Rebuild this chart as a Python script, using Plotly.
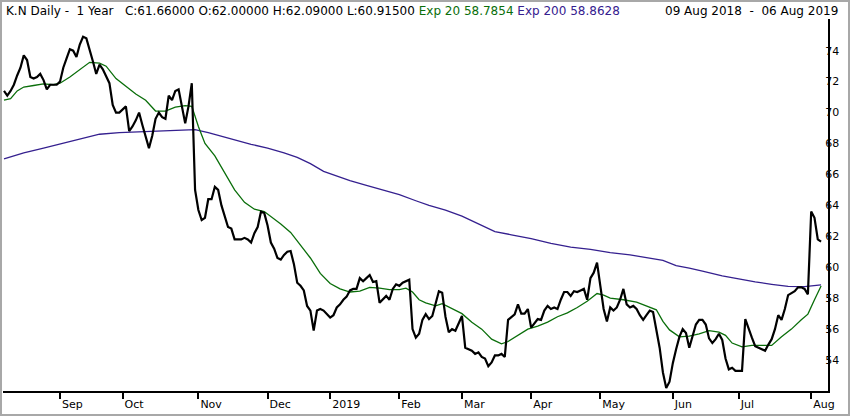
import pandas as pd
import plotly.graph_objs as go

# K.N daily closes, 09 Aug 2018 - 06 Aug 2019 (NYSE sessions)
start_date = "2018-08-09"
end_date = "2019-08-06"
holidays = ["2018-09-03", "2018-11-22", "2018-12-05", "2018-12-25", "2019-01-01",
            "2019-01-21", "2019-02-18", "2019-04-19", "2019-05-27", "2019-07-04"]

close = [
    71.4, 71.1, 71.4, 71.8, 72.4, 72.9, 73.7, 73.4, 72.3, 72.2,
    72.3, 72.5, 72.1, 71.5, 71.8, 71.8, 71.8, 72.0, 72.9, 73.5,
    74.1, 74.0, 73.6, 74.4, 74.9, 74.8, 74.1, 73.3, 72.5, 73.1,
    72.8, 72.3, 71.9, 70.5, 70.0, 70.0, 70.2, 70.4, 68.8, 69.1,
    69.5, 70.0, 69.2, 68.5, 67.7, 68.5, 69.6, 70.0, 69.7, 69.6,
    71.1, 70.8, 71.4, 71.5, 70.3, 69.3, 70.4, 71.9, 65.0, 63.7,
    63.05, 63.2, 64.4, 64.4, 65.2, 65.0, 64.0, 63.3, 62.6, 62.5,
    61.8, 61.8, 61.8, 61.9, 61.8, 61.6, 62.2, 62.6, 63.6, 63.5,
    62.7, 61.6, 61.2, 60.6, 60.5, 60.8, 61.0, 61.05, 60.2, 59.0,
    58.8, 58.5, 57.5, 57.2, 55.9, 57.2, 57.3, 57.2, 57.0, 56.75,
    56.9, 57.4, 57.6, 57.9, 58.1, 58.5, 58.6, 58.6, 59.3, 59.1,
    59.3, 59.5, 59.05, 59.1, 57.7, 57.9, 58.15, 57.9, 58.6, 58.9,
    58.8, 59.0, 59.1, 59.2, 56.0, 55.45, 55.7, 56.6, 56.97, 56.65,
    56.85, 57.6, 58.45, 58.35, 56.8, 55.8, 56.0, 55.9, 56.4, 56.85,
    54.8, 54.7, 54.6, 54.4, 54.5, 54.2, 54.1, 53.6, 53.85, 54.3,
    54.3, 54.4, 54.2, 56.6, 56.8, 56.95, 57.6, 57.0, 57.0, 57.3,
    56.1, 56.4, 56.65, 56.6, 57.2, 57.5, 57.3, 57.4, 57.3, 57.9,
    58.4, 58.4, 58.15, 58.45, 58.4, 58.5, 58.6, 57.9, 59.3, 59.65,
    60.3, 58.8, 57.3, 56.5, 57.4, 57.2, 57.4, 57.9, 58.6, 57.6,
    57.4, 57.5, 57.3, 56.9, 56.6, 56.9, 57.2, 57.1, 56.0, 54.8,
    53.2, 52.2, 52.6, 53.8, 54.7, 55.5, 56.0, 55.75, 54.8, 55.6,
    56.3, 56.6, 56.6, 56.3, 55.4, 55.1, 55.35, 55.7, 55.3, 54.1,
    53.4, 53.5, 53.3, 53.3, 53.3, 56.65, 56.0, 55.45, 54.9, 54.8,
    54.65, 54.6, 55.0, 55.35, 56.0, 56.9, 56.6, 57.3, 58.2, 58.3,
    58.45, 58.7, 58.7, 58.6, 58.25, 63.6, 63.2, 61.8, 61.66,
]

# exponential averages (session number, value)
ema20_day = [0, 2, 4, 6, 9, 12, 15, 17, 20, 23, 26, 29, 31, 34, 37, 40, 43, 46, 49,
             52, 55, 57, 59, 61, 64, 67, 70, 73, 76, 79, 81, 84, 87, 90, 93, 96, 99,
             102, 105, 108, 111, 114, 117, 120, 122, 124, 126, 128, 131, 133, 136,
             139, 142, 145, 148, 151, 153, 156, 159, 162, 165, 168, 171, 174, 177,
             180, 182, 184, 188, 192, 196, 198, 200, 202, 205, 208, 211, 214, 217,
             219, 221, 224, 227, 230, 233, 236, 239, 242, 244, 246, 248]
ema20 = [70.8, 70.9, 71.4, 71.65, 71.75, 71.85, 71.8, 71.9, 72.3, 72.8, 73.25, 73.2,
         73.0, 72.2, 71.7, 71.2, 70.8, 70.1, 70.1, 70.35, 70.45, 70.4, 69.1, 68.0,
         67.2, 66.1, 65.0, 64.2, 63.75, 63.6, 63.3, 62.8, 62.25, 61.4, 60.6, 59.6,
         58.95, 58.6, 58.4, 58.45, 58.7, 58.65, 58.55, 58.55, 58.65, 58.4, 57.9,
         57.7, 57.5, 57.65, 57.3, 57.0, 56.45, 56.0, 55.35, 55.05, 55.2, 55.6, 56.0,
         56.2, 56.45, 56.8, 57.05, 57.4, 57.8, 58.3, 58.2, 58.0, 57.9, 57.75, 57.45,
         57.25, 56.5, 55.95, 55.5, 55.55, 55.7, 55.9, 55.8, 55.6, 55.1, 54.85, 54.95,
         54.95, 54.95, 55.5, 56.0, 56.6, 56.97, 57.9, 58.7854]

ema200_day = [0, 6, 12, 17, 23, 29, 35, 41, 49, 55, 58, 62, 67, 71, 75, 80, 85, 89,
              93, 97, 101, 105, 110, 115, 120, 125, 129, 134, 139, 144, 149, 154,
              160, 166, 172, 178, 184, 190, 196, 200, 204, 208, 212, 218, 223, 228,
              233, 238, 243, 246, 248]
ema200 = [67.0, 67.4, 67.7, 67.95, 68.3, 68.6, 68.7, 68.75, 68.8, 68.87, 68.9, 68.7,
          68.4, 68.2, 67.95, 67.7, 67.4, 67.1, 66.7, 66.2, 65.9, 65.6, 65.3, 65.0,
          64.7, 64.3, 64.0, 63.7, 63.3, 62.8, 62.3, 62.1, 61.85, 61.55, 61.3, 61.15,
          60.95, 60.8, 60.6, 60.45, 60.1, 59.95, 59.75, 59.45, 59.25, 59.05, 58.9,
          58.77, 58.75, 58.8, 58.8628]

month_labels = ["Sep", "Oct", "Nov", "Dec", "2019", "Feb", "Mar", "Apr", "May",
                "Jun", "Jul", "Aug"]
price_ticks = [54, 56, 58, 60, 62, 64, 66, 68, 70, 72, 74]

title_left = ("K.N Daily -&nbsp; 1 Year&nbsp;&nbsp; C:61.66000 O:62.00000 H:62.09000 "
              "L:60.91500 <span style='color:#0a6e0a'>Exp 20 58.7854</span> "
              "<span style='color:#35208f'>Exp 200 58.8628</span>")
title_right = "09 Aug 2018&nbsp; -&nbsp; 06 Aug 2019"

# trading calendar -> session numbers for the x axis
dates = pd.bdate_range(start_date, end_date)
dates = dates[~dates.isin(pd.to_datetime(holidays))]
session = list(range(len(dates)))
sessions = pd.Series(dates)
month_first = sessions.groupby(sessions.dt.to_period("M")).apply(lambda s: s.index[0])
tick_pos = list(month_first.iloc[1:])

font = "DejaVu Sans"
W, H = 850, 417
ml, mr, mt, mb = 3, 22, 19, 26
pw, ph = W - ml - mr, H - mt - mb

price = go.Scatter(x=session, y=close, mode="lines",
                   line=dict(color="black", width=2.2), name="K.N")
exp20 = go.Scatter(x=ema20_day, y=ema20, mode="lines",
                   line=dict(color="#0a6e0a", width=1.3), name="Exp 20")
exp200 = go.Scatter(x=ema200_day, y=ema200, mode="lines",
                    line=dict(color="#35208f", width=1.3), name="Exp 200")

layout = go.Layout(
    width=W, height=H,
    margin=dict(l=ml, r=mr, t=mt, b=mb),
    paper_bgcolor="white", plot_bgcolor="white",
    showlegend=False,
    font=dict(family=font, size=11, color="black"),
    xaxis=dict(
        range=[-0.3, 250.1],
        tickvals=tick_pos, ticktext=month_labels,
        ticks="outside", ticklen=6, tickwidth=2, tickcolor="black",
        ticklabelposition="outside right", ticklabelstandoff=2,
        tickfont=dict(family=font, size=11, color="black"),
        showline=True, linecolor="black", linewidth=2,
        showgrid=False, zeroline=False, automargin=False,
    ),
    yaxis=dict(
        range=[52, 76.05], side="right",
        tickvals=price_ticks, ticks="", ticklen=0,
        ticklabelstandoff=-7,
        tickfont=dict(family=font, size=11, color="black"),
        showline=True, linecolor="black", linewidth=2,
        showgrid=False, zeroline=False, automargin=False,
    ),
    annotations=[
        dict(text=title_left, xref="paper", yref="paper", x=0, y=1,
             xanchor="left", yanchor="middle", xshift=1, yshift=8, showarrow=False,
             font=dict(family=font, size=12, color="black")),
        dict(text=title_right, xref="paper", yref="paper", x=1, y=1,
             xanchor="right", yanchor="middle", xshift=12, yshift=8, showarrow=False,
             font=dict(family=font, size=12, color="black")),
    ],
    shapes=[
        dict(type="rect", xref="paper", yref="paper",
             x0=(1 - ml) / pw, x1=(W - 1 - ml) / pw,
             y0=-(mb - 2) / ph, y1=1 + (mt - 1) / ph,
             line=dict(color="#a8a8a8", width=2)),
    ],
)

fig = go.Figure(data=[exp200, exp20, price], layout=layout)
# the page's default body margin would push the 850x417 figure off the window
fig.write_html("out.html", config={"displayModeBar": False},
               post_script="document.body.style.margin = '0px';")
